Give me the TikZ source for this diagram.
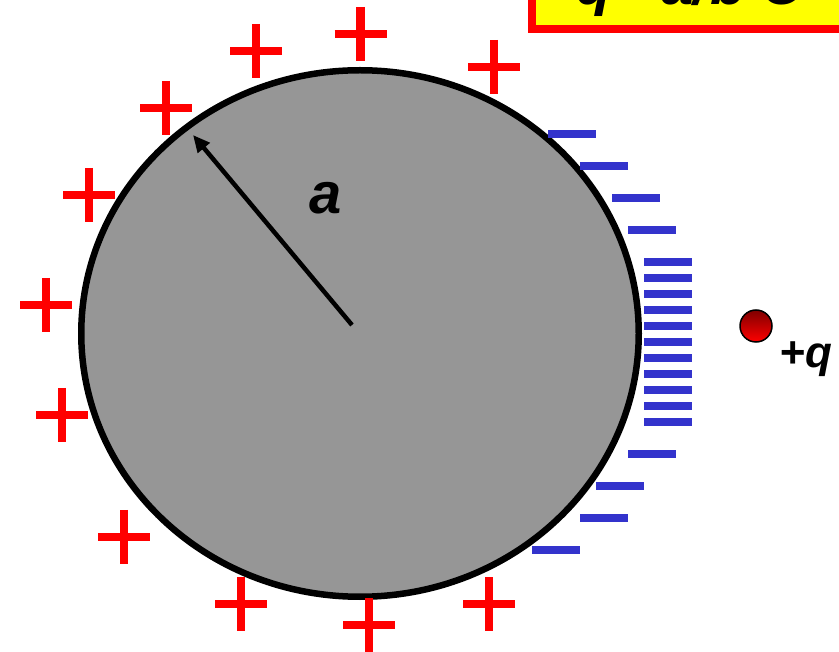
\documentclass[tikz,border=0pt]{standalone}
\usepackage{fontspec}
\setmainfont{Liberation Sans}
\usetikzlibrary{arrows.meta,shapes.geometric}
\definecolor{sphgray}{RGB}{150,150,150}
\definecolor{negblue}{RGB}{51,51,204}
\definecolor{posred}{RGB}{255,0,0}
\definecolor{boxyellow}{RGB}{255,255,0}
\begin{document}
\begin{tikzpicture}[x=1pt,y=-1pt,
  plussign/.style={posred, line width=8.5pt},
  minussign/.style={fill=negblue},
  bigit/.style={font=\bfseries\itshape\fontsize{58}{60}\selectfont, inner sep=0pt},
  midit/.style={font=\bfseries\itshape\fontsize{44}{48}\selectfont, inner sep=0pt}]
\useasboundingbox (0,0) rectangle (839,652);
\clip (0,0) rectangle (839,652);
\fill[white] (0,0) rectangle (839,652);
% formula box (cut off by the frame)
\draw[red, line width=8pt, fill=boxyellow] (532,-60) rectangle (900,29);
\node[bigit, anchor=base west] (eq) at (576,5) {q'=a/b C};
% conducting sphere
\node[draw, ellipse, fill=sphgray, line width=6.5pt, inner sep=0pt,
      minimum width=557.5pt, minimum height=526.5pt] (sphere) at (360,333.5) {};
% radius
\coordinate (O) at (352,325);
\coordinate (rim) at (193,135);
\draw[line width=4.5pt, -{Triangle[length=17pt,width=15pt]}] (O) -- (rim);
\node[bigit, anchor=base] (alab) at (326,214) {a};
% point charge
\node[circle, draw, line width=1.5pt, minimum size=32pt, inner sep=0pt,
      top color=red!50!black, bottom color=red] (charge) at (756,326) {};
\node[midit, anchor=base] (qlab) at (806,368) {+q};
% induced negative charges
\foreach \x/\y in {548/134,580/166,612/198,628/230,644/262,644/278,644/294,644/310,
  644/326,644/342,644/358,644/374,644/390,644/406,644/422,628/454,596/486,580/518,532/550}
  \fill[minussign] (\x,{\y-4.35}) rectangle ++(48,8.7);
% positive charges
\foreach \x/\y in {256/51,360.5/34,494/67,166/108,89/195,46/305,62/415,124/537,241/604,369/625,489/604}{
  \draw[plussign] ({\x-26},\y) -- ({\x+26},\y);
  \draw[plussign] (\x,{\y-27}) -- (\x,{\y+27});
}
\end{tikzpicture}
\end{document}
